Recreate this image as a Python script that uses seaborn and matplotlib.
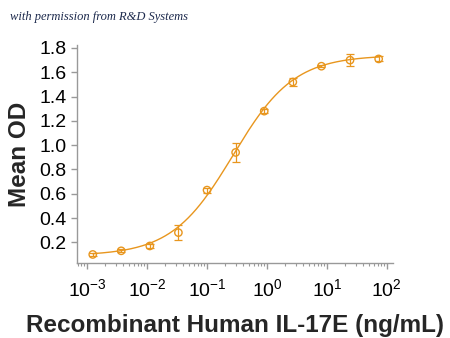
import numpy as np
import pandas as pd
import matplotlib
matplotlib.use("Agg")
import matplotlib.pyplot as plt
import seaborn as sns
from matplotlib.ticker import LogLocator, FixedLocator

# ---- data ----
conc = [0.00124, 0.0037, 0.0111, 0.0333, 0.1, 0.3, 0.9, 2.7, 8.1, 24.3, 73.0]
mean_od = [0.10, 0.13, 0.17, 0.28, 0.63, 0.94, 1.28, 1.52, 1.65, 1.70, 1.71]
err_od = [0.01, 0.012, 0.02, 0.06, 0.02, 0.08, 0.015, 0.03, 0.01, 0.05, 0.02]
# 4-parameter logistic fit parameters (bottom, top, EC50, hill)
fit_bottom, fit_top, fit_ec50, fit_hill = 0.09, 1.74, 0.27, 0.85
y_ticks = [0.2, 0.4, 0.6, 0.8, 1.0, 1.2, 1.4, 1.6, 1.8]
x_ticks = [1e-3, 1e-2, 1e-1, 1e0, 1e1, 1e2]
x_tick_labels = ["10$^{\\mathregular{-3}}$", "10$^{\\mathregular{-2}}$", "10$^{\\mathregular{-1}}$",
                 "10$^{\\mathregular{0}}$", "10$^{\\mathregular{1}}$", "10$^{\\mathregular{2}}$"]
x_label = "Recombinant Human IL-17E (ng/mL)"
y_label = "Mean OD"
watermark = "with permission from R&D Systems"

color = "#E8961E"

sns.set_style("ticks")
plt.rcParams["font.family"] = ["Liberation Sans", "DejaVu Sans"]
plt.rcParams["mathtext.fontset"] = "custom"
plt.rcParams["mathtext.rm"] = "Liberation Sans"
plt.rcParams["mathtext.it"] = "Liberation Sans"

df = pd.DataFrame({"conc": conc, "od": mean_od, "err": err_od})
xs = np.logspace(np.log10(conc[0]), np.log10(conc[-1]), 300)
ys = fit_bottom + (fit_top - fit_bottom) / (1 + (fit_ec50 / xs) ** fit_hill)
fit_df = pd.DataFrame({"conc": xs, "od": ys})

fig = plt.figure(figsize=(4.5, 3.38), dpi=100)
ax = fig.add_axes([0.171, 0.222, 0.702, 0.645])

sns.lineplot(data=fit_df, x="conc", y="od", ax=ax, color=color, lw=1.0)
ax.errorbar(df["conc"], df["od"], yerr=df["err"], fmt="none", ecolor=color,
            elinewidth=0.9, capsize=3, capthick=0.9)
sns.scatterplot(data=df, x="conc", y="od", ax=ax, marker="o", s=28,
                facecolor="none", edgecolor=color, linewidth=1.0)

ax.set_xscale("log")
ax.set_xlim(10 ** -3.17, 10 ** 2.1)
ax.set_ylim(0.03, 1.825)
ax.set_yticks(y_ticks)
ax.set_yticklabels([f"{v:.1f}" for v in y_ticks])
ax.xaxis.set_major_locator(FixedLocator(x_ticks))
ax.set_xticklabels(x_tick_labels)
ax.xaxis.set_minor_locator(LogLocator(base=10, subs=np.arange(2, 10), numticks=20))
ax.set_xlabel(x_label, fontsize=17.5, fontweight="bold", labelpad=10)
ax.set_ylabel(y_label, fontsize=17.5, fontweight="bold", labelpad=6)

for s in ["top", "right"]:
    ax.spines[s].set_visible(False)
for s in ["left", "bottom"]:
    ax.spines[s].set_color("#999999")
    ax.spines[s].set_linewidth(1.0)
ax.tick_params(axis="both", which="major", labelsize=14, colors="#999999",
               labelcolor="black", length=4, width=1)
ax.tick_params(axis="x", which="minor", colors="#999999", length=2.5, width=0.8)
ax.tick_params(axis="x", which="major", pad=7)

fig.text(0.022, 0.95, watermark, fontsize=9, style="italic",
         family=["Liberation Serif", "DejaVu Serif"], color="#1d2a4d",
         ha="left", va="center")

fig.savefig("out.png", dpi=100)
